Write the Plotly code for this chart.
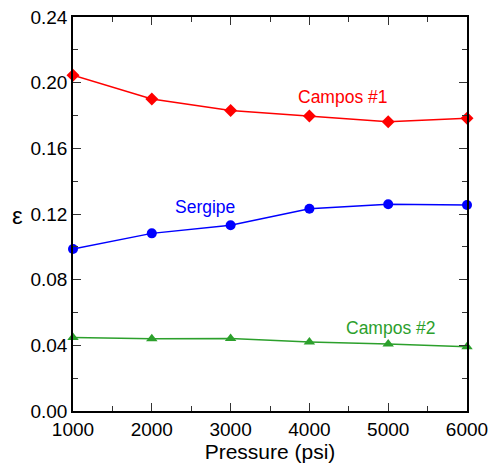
import plotly.graph_objects as go

pressure = [1000, 2000, 3000, 4000, 5000, 6000]
campos1 = [0.2045, 0.1900, 0.1830, 0.1797, 0.1762, 0.1783]
sergipe = [0.0987, 0.1082, 0.1131, 0.1232, 0.1259, 0.1255]
campos2 = [0.0447, 0.0440, 0.0441, 0.0420, 0.0408, 0.0392]

y_ticks = [0.00, 0.04, 0.08, 0.12, 0.16, 0.20, 0.24]
x_ticks = [1000, 2000, 3000, 4000, 5000, 6000]

RED = "#ff0000"
BLUE = "#0000ff"
GREEN = "#2ca02c"

fig = go.Figure()
fig.add_trace(go.Scatter(x=pressure, y=campos1, mode="lines+markers",
                         line=dict(color=RED, width=1.5),
                         marker=dict(symbol="diamond", size=10, color=RED, line=dict(width=0)),
                         cliponaxis=False, name="Campos #1"))
fig.add_trace(go.Scatter(x=pressure, y=sergipe, mode="lines+markers",
                         line=dict(color=BLUE, width=1.5),
                         marker=dict(symbol="circle", size=10, color=BLUE, line=dict(width=0)),
                         cliponaxis=False, name="Sergipe"))
fig.add_trace(go.Scatter(x=pressure, y=campos2, mode="lines+markers",
                         line=dict(color=GREEN, width=1.5),
                         marker=dict(symbol="triangle-up", size=10, color=GREEN, line=dict(width=0)),
                         cliponaxis=False, name="Campos #2"))

fig.add_annotation(x=4430, y=0.1915, text="Campos #1", showarrow=False,
                   font=dict(color=RED, size=17.5))
fig.add_annotation(x=2675, y=0.1243, text="Sergipe", showarrow=False,
                   font=dict(color=BLUE, size=17.5))
fig.add_annotation(x=5040, y=0.0507, text="Campos #2", showarrow=False,
                   font=dict(color=GREEN, size=17.5))

fig.add_annotation(xref="paper", yref="paper", x=-0.14, y=0.495, text="ε",
                   showarrow=False, xanchor="center", yanchor="middle",
                   font=dict(size=24, color="black"))

axis_common = dict(showline=True, linecolor="black", linewidth=1.5, mirror="allticks",
                   ticks="inside", ticklen=8, tickwidth=1.2, tickcolor="#333",
                   showgrid=False, zeroline=False, automargin=False,
                   tickfont=dict(size=19, color="black"))

fig.update_xaxes(range=[1000, 6000], tickvals=x_ticks, tickformat="d",
                 title=dict(text="Pressure (psi)", font=dict(size=21, color="black"), standoff=0),
                 minor=dict(ticks="inside", ticklen=5, tickwidth=1.2, tickcolor="#333", dtick=500, showgrid=False),
                 **axis_common)
fig.update_yaxes(range=[0, 0.24], tickvals=y_ticks, tickformat=".2f",
                 minor=dict(ticks="inside", ticklen=5, tickwidth=1.2, tickcolor="#333", dtick=0.02, showgrid=False),
                 **axis_common)

fig.update_layout(width=491, height=466, showlegend=False,
                  margin=dict(l=73, r=24, t=17, b=55),
                  plot_bgcolor="white", paper_bgcolor="white",
                  font=dict(family="Liberation Sans, Arial, sans-serif", color="black"))

fig.write_html("out.html")
